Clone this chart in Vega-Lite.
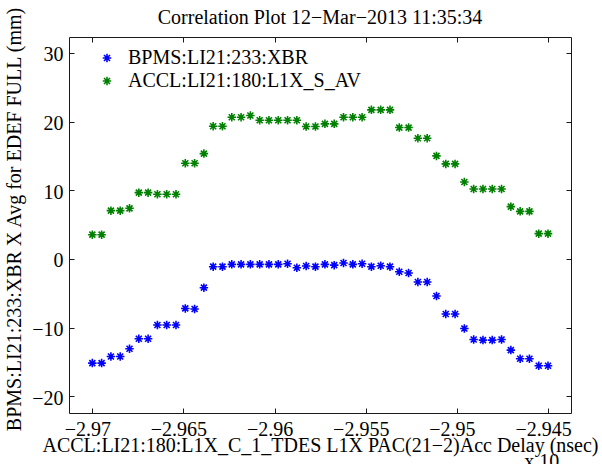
{
  "$schema": "https://vega.github.io/schema/vega-lite/v6.json",
  "width": 502,
  "height": 376,
  "autosize": "none",
  "padding": {"left": 69, "top": 37, "right": 31, "bottom": 51},
  "background": "white",
  "config": {
    "font": "Liberation Serif",
    "view": {"stroke": "#1a1a1a", "strokeWidth": 1},
    "axis": {
      "grid": false,
      "domain": false,
      "tickColor": "#1a1a1a",
      "tickSize": -5,
      "labelFont": "Liberation Serif",
      "labelFontSize": 20,
      "labelColor": "#000",
      "titleFont": "Liberation Serif",
      "titleFontSize": 20,
      "titleFontWeight": "normal",
      "titleColor": "#000"
    }
  },
  "title": {
    "text": "Correlation Plot 12−Mar−2013 11:35:34",
    "anchor": "middle",
    "frame": "group",
    "offset": 0,
    "dy": 38,
    "baseline": "alphabetic",
    "font": "Liberation Serif",
    "fontSize": 20,
    "fontWeight": "normal",
    "color": "#000"
  },
  "data": {
    "values": [
      {"x": -2.97, "b": -15.16, "g": 3.54},
      {"x": -2.96949, "b": -15.16, "g": 3.54},
      {"x": -2.96898, "b": -14.2, "g": 7.04},
      {"x": -2.96847, "b": -14.2, "g": 7.04},
      {"x": -2.96796, "b": -13.08, "g": 7.38},
      {"x": -2.96745, "b": -11.62, "g": 9.66},
      {"x": -2.96694, "b": -11.62, "g": 9.66},
      {"x": -2.96643, "b": -9.62, "g": 9.42},
      {"x": -2.96592, "b": -9.62, "g": 9.42},
      {"x": -2.96541, "b": -9.62, "g": 9.42},
      {"x": -2.9649, "b": -7.2, "g": 13.94},
      {"x": -2.96439, "b": -7.29, "g": 13.94},
      {"x": -2.96388, "b": -4.18, "g": 15.35},
      {"x": -2.96337, "b": -1.12, "g": 19.33},
      {"x": -2.96286, "b": -1.12, "g": 19.33},
      {"x": -2.96235, "b": -0.78, "g": 20.64},
      {"x": -2.96184, "b": -0.78, "g": 20.64},
      {"x": -2.96133, "b": -0.78, "g": 20.89},
      {"x": -2.96082, "b": -0.78, "g": 20.2},
      {"x": -2.96031, "b": -0.78, "g": 20.2},
      {"x": -2.9598, "b": -0.78, "g": 20.2},
      {"x": -2.95929, "b": -0.69, "g": 20.2},
      {"x": -2.95878, "b": -1.27, "g": 20.2},
      {"x": -2.95827, "b": -1.02, "g": 19.3},
      {"x": -2.95776, "b": -1.12, "g": 19.3},
      {"x": -2.95724, "b": -0.78, "g": 19.68},
      {"x": -2.95673, "b": -0.9, "g": 19.68},
      {"x": -2.95622, "b": -0.58, "g": 20.64},
      {"x": -2.95571, "b": -0.78, "g": 20.64},
      {"x": -2.9552, "b": -0.69, "g": 20.64},
      {"x": -2.95469, "b": -1.12, "g": 21.72},
      {"x": -2.95418, "b": -0.98, "g": 21.72},
      {"x": -2.95367, "b": -1.12, "g": 21.72},
      {"x": -2.95316, "b": -1.85, "g": 19.14},
      {"x": -2.95265, "b": -2.04, "g": 19.14},
      {"x": -2.95214, "b": -3.35, "g": 17.58},
      {"x": -2.95163, "b": -3.35, "g": 17.58},
      {"x": -2.95112, "b": -5.39, "g": 15.01},
      {"x": -2.95061, "b": -8.02, "g": 13.85},
      {"x": -2.9501, "b": -8.02, "g": 13.85},
      {"x": -2.94959, "b": -10.12, "g": 11.22},
      {"x": -2.94908, "b": -11.72, "g": 10.2},
      {"x": -2.94857, "b": -11.81, "g": 10.2},
      {"x": -2.94806, "b": -11.81, "g": 10.2},
      {"x": -2.94755, "b": -11.72, "g": 10.2},
      {"x": -2.94704, "b": -13.27, "g": 7.62},
      {"x": -2.94653, "b": -14.53, "g": 6.94},
      {"x": -2.94602, "b": -14.53, "g": 6.94},
      {"x": -2.94551, "b": -15.55, "g": 3.69},
      {"x": -2.945, "b": -15.55, "g": 3.69}
    ]
  },
  "layer": [
    {
      "transform": [{"fold": ["b", "g"], "as": ["s", "y"]}],
      "mark": {
        "type": "point",
        "shape": "M-1,0L1,0M0,-1L0,1M-0.7071,-0.7071L0.7071,0.7071M-0.7071,0.7071L0.7071,-0.7071",
        "filled": false,
        "strokeWidth": 1.6,
        "size": 72,
        "opacity": 1
      },
      "encoding": {
        "x": {
          "field": "x",
          "type": "quantitative",
          "scale": {"domain": [-2.97128, -2.94374], "nice": false, "zero": false},
          "axis": {
            "orient": "bottom",
            "values": [-2.97, -2.965, -2.96, -2.955, -2.95, -2.945],
            "format": ".3~f",
            "labelPadding": 11,
            "labelOffset": -5,
            "title": "ACCL:LI21:180:L1X_C_1_TDES L1X PAC(21−2)Acc Delay (nsec)",
            "titleX": 251,
            "titleY": 38,
            "titleAlign": "center",
            "titleBaseline": "alphabetic"
          }
        },
        "y": {
          "field": "y",
          "type": "quantitative",
          "scale": {"domain": [-22.43, 32.33], "nice": false, "zero": false},
          "axis": {
            "orient": "left",
            "values": [-20, -10, 0, 10, 20, 30],
            "labelPadding": 11,
            "labelOffset": 2,
            "title": "BPMS:LI21:233:XBR X Avg for EDEF FULL (mm)",
            "titleX": -49,
            "titleY": 182,
            "titleAngle": -90,
            "titleAlign": "center",
            "titleBaseline": "alphabetic"
          }
        },
        "color": {
          "field": "s",
          "type": "nominal",
          "scale": {"domain": ["b", "g"], "range": ["#0000ff", "#008000"]},
          "legend": {
            "title": null,
            "orient": "none",
            "legendX": 28,
            "legendY": 11,
            "labelExpr": "datum.label == 'b' ? 'BPMS:LI21:233:XBR' : 'ACCL:LI21:180:L1X_S_AV'",
            "labelFont": "Liberation Serif",
            "labelFontSize": 20,
            "labelColor": "#000",
            "labelLimit": 0,
            "labelOffset": 11,
            "rowPadding": 3,
            "symbolType": "M-1,0L1,0M0,-1L0,1M-0.7071,-0.7071L0.7071,0.7071M-0.7071,0.7071L0.7071,-0.7071",
            "symbolSize": 72,
            "symbolStrokeWidth": 1.6
          }
        }
      }
    },
    {
      "mark": {"type": "point", "opacity": 0},
      "encoding": {
        "x": {
          "field": "x",
          "type": "quantitative",
          "axis": {"orient": "top", "values": [-2.97, -2.965, -2.96, -2.955, -2.95, -2.945], "labels": false, "title": null}
        },
        "y": {
          "field": "b",
          "type": "quantitative",
          "axis": {"orient": "right", "values": [-20, -10, 0, 10, 20, 30], "labels": false, "title": null}
        }
      }
    },
    {
      "data": {"values": [{"t": "x 10", "px": -2.94535, "py": -29.5}]},
      "mark": {"type": "text", "font": "Liberation Serif", "fontSize": 20, "color": "#000", "clip": false},
      "encoding": {
        "x": {"field": "px", "type": "quantitative", "axis": null},
        "y": {"field": "py", "type": "quantitative", "axis": null},
        "text": {"field": "t"}
      }
    }
  ],
  "resolve": {"axis": {"x": "independent", "y": "independent"}}
}
